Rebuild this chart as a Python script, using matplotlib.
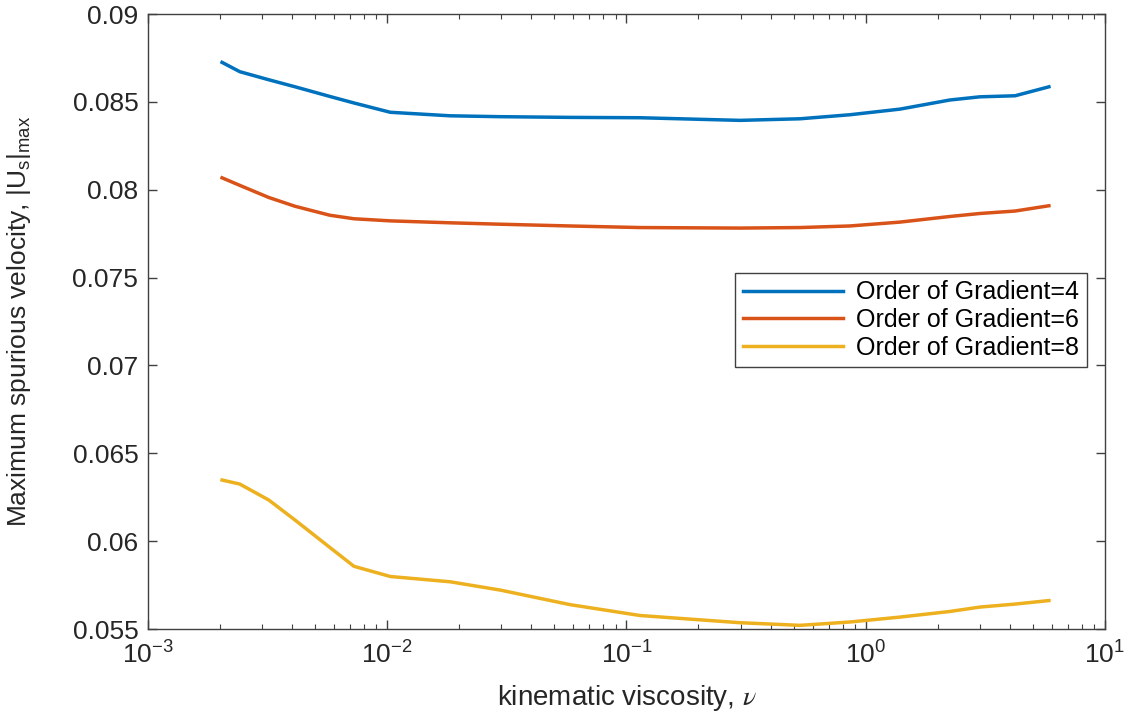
# Maximum spurious velocity vs kinematic viscosity for different gradient orders

import matplotlib.pyplot as plt

plt.rcParams['font.family'] = ['Liberation Sans', 'DejaVu Sans']

# Data
nu = [2.04e-3, 2.42e-3, 3.20e-3, 4.12e-3, 5.76e-3, 7.26e-3, 0.0103, 0.0183,
      0.0296, 0.0580, 0.1139, 0.298, 0.531, 0.859, 1.39, 2.25, 3.00, 4.21, 5.83]

grad4 = [0.08725, 0.08672, 0.08626, 0.08586, 0.08531, 0.08494, 0.08441, 0.08421,
         0.08416, 0.08412, 0.08410, 0.08395, 0.08404, 0.08427, 0.08459, 0.08511,
         0.08529, 0.08535, 0.08586]
grad6 = [0.08068, 0.08025, 0.07956, 0.07906, 0.07855, 0.07835, 0.07823, 0.07812,
         0.07804, 0.07794, 0.07785, 0.07782, 0.07785, 0.07794, 0.07816, 0.07848,
         0.07865, 0.07879, 0.07909]
grad8 = [0.06348, 0.06325, 0.06234, 0.06120, 0.05964, 0.05857, 0.05799, 0.05769,
         0.05722, 0.05639, 0.05577, 0.05536, 0.05521, 0.05540, 0.05568, 0.05600,
         0.05625, 0.05642, 0.05662]

labels = ['Order of Gradient=4', 'Order of Gradient=6', 'Order of Gradient=8']
colors = ['#0072BD', '#D95319', '#EDB120']

xticks = [1e-3, 1e-2, 1e-1, 1e0, 1e1]
xticklabels = [r'$\mathregular{10^{-3}}$', r'$\mathregular{10^{-2}}$', r'$\mathregular{10^{-1}}$',
               r'$\mathregular{10^{0}}$', r'$\mathregular{10^{1}}$']
yticks = [0.055, 0.06, 0.065, 0.07, 0.075, 0.08, 0.085, 0.09]
yticklabels = ['0.055', '0.06', '0.065', '0.07', '0.075', '0.08', '0.085', '0.09']

# Figure and axes placement
fig = plt.figure(figsize=(11.34, 7.14), dpi=100)
ax = fig.add_axes([0.1305, 0.119, 0.8439, 0.8613])

for ys, lab, c in zip([grad4, grad6, grad8], labels, colors):
    ax.plot(nu, ys, color=c, linewidth=2.5, label=lab)

ax.set_xscale('log')
ax.set_xlim(1e-3, 1e1)
ax.set_ylim(0.055, 0.09)
ax.set_xticks(xticks)
ax.set_xticklabels(xticklabels)
ax.set_yticks(yticks)
ax.set_yticklabels(yticklabels)

# MATLAB-like box with inward ticks
for s in ax.spines.values():
    s.set_color('#404040')
    s.set_linewidth(1.0)
ax.tick_params(which='both', direction='in', top=True, right=True, color='#404040')
ax.tick_params(which='major', length=6.5, width=1.0)
ax.tick_params(which='minor', length=3.5, width=0.8)
ax.tick_params(axis='x', which='major', pad=9, labelsize=19, labelcolor='#262626')
ax.tick_params(axis='y', which='major', pad=7, labelsize=19, labelcolor='#262626')

ax.set_xlabel(r'kinematic viscosity, $\nu$', fontsize=20, color='#262626',
              math_fontfamily='stix')
ax.set_ylabel(r'Maximum spurious velocity, |U$_\mathregular{s}$|$_\mathregular{max}$',
              fontsize=19, color='#262626')
ax.xaxis.set_label_coords(0.5, -0.088)
ax.yaxis.set_label_coords(-0.12, 0.5)

leg = ax.legend(loc='upper right', bbox_to_anchor=(0.981, 0.579), borderaxespad=0,
                fontsize=18, frameon=True, fancybox=False, framealpha=1,
                edgecolor='#404040', handlelength=4.0, labelspacing=0.15,
                borderpad=0.3, handletextpad=0.55)
leg.get_frame().set_linewidth(1.0)

fig.savefig('out.png', dpi=100)
